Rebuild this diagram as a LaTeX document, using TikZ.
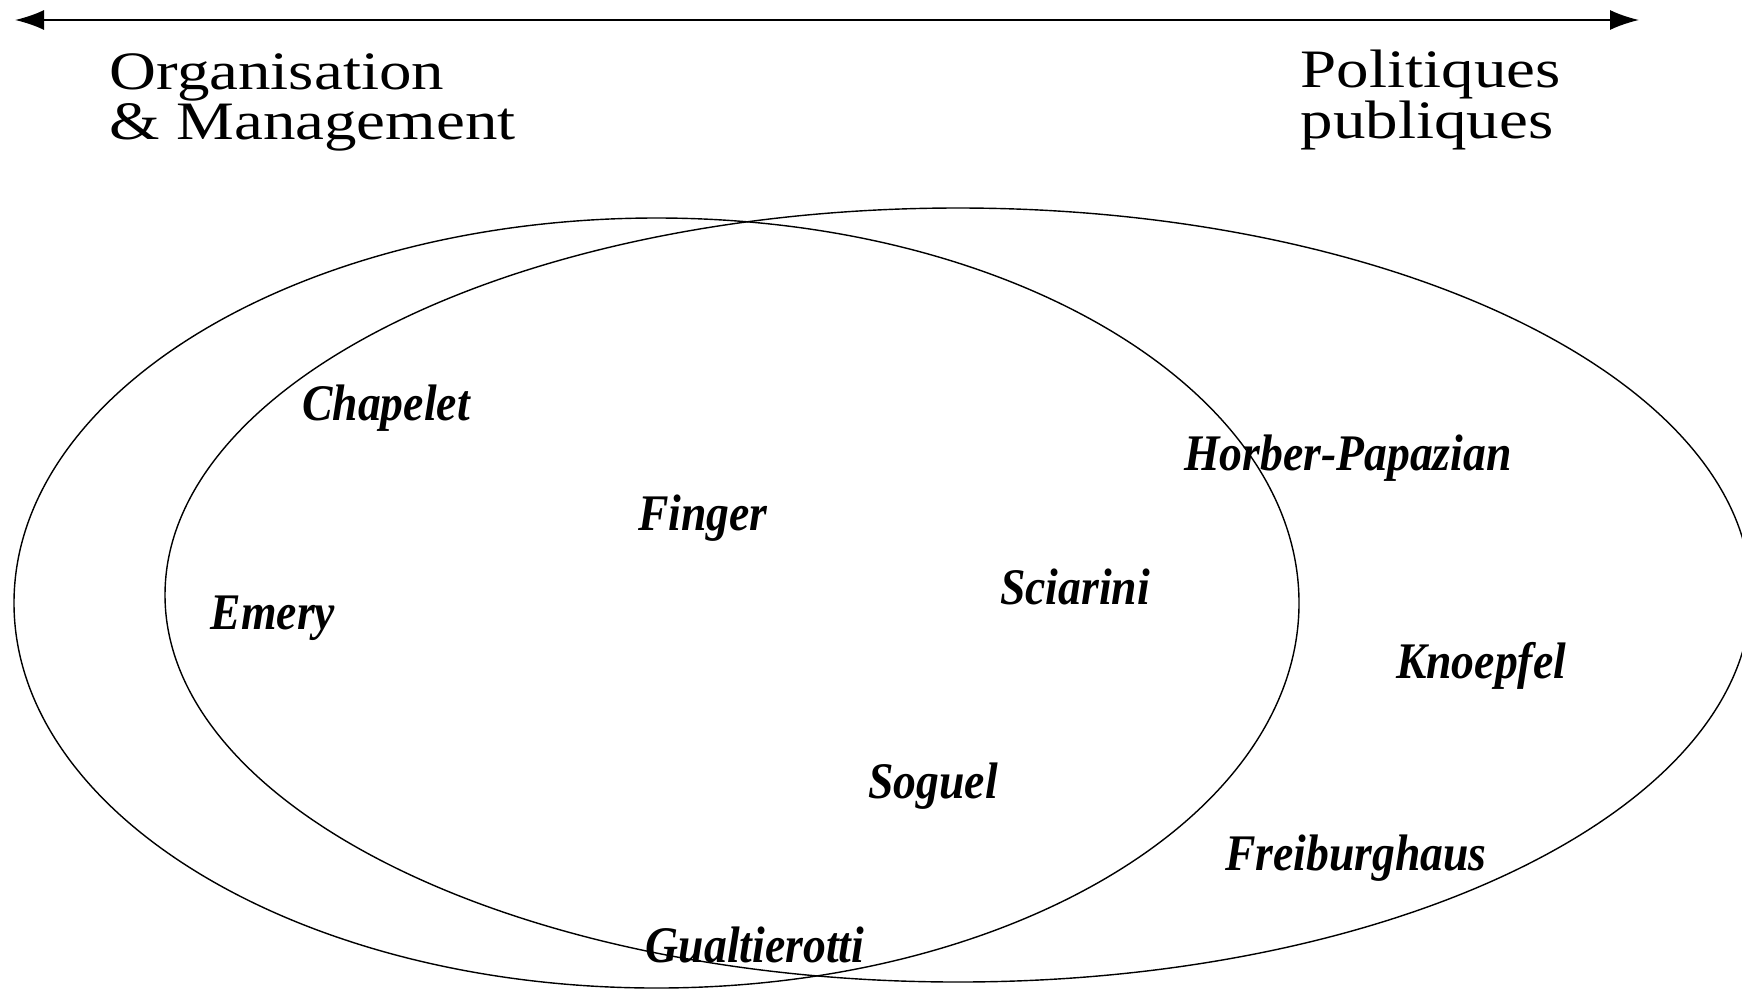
\documentclass[tikz,border=0pt]{standalone}
\usepackage{fontspec}
\setmainfont{Liberation Serif}
\newfontfamily\namefont[FakeStretch=0.89]{Liberation Serif}
\newfontfamily\headfont[FakeStretch=1.2]{Liberation Serif}
\usepackage{tikz}
\usetikzlibrary{positioning,arrows.meta}

\begin{document}
\begin{tikzpicture}[
    author/.style={anchor=base, inner sep=0pt, font=\namefont\bfseries\itshape\fontsize{14.6}{16}\selectfont},
    pole/.style={anchor=north west, inner sep=0pt, align=left, font=\headfont\fontsize{15.4}{12.7}\selectfont}]
    \useasboundingbox (0,0) rectangle (17.42,9.89);

    % axis
    \coordinate (axisL) at (0.15,9.69);
    \coordinate (axisR) at (16.39,9.69);
    \draw[{Latex[length=2.9mm,width=2mm]}-{Latex[length=2.9mm,width=2mm]}, line width=0.5pt] (axisL) -- (axisR);
    \node[pole] (orgmgmt) at (1.09,9.36) {Organisation\\[-0.4pt]\& Management};
    \node[pole] (polpub) at (13.00,9.40) {Politiques\\[-0.4pt]publiques};

    % the two fields
    \draw[line width=0.4pt] (6.565,3.86) ellipse [x radius=6.425, y radius=3.85];
    \draw[line width=0.4pt] (9.58,3.94) ellipse [x radius=7.93, y radius=3.87];

    % authors
    \node[author] (chapelet) at (3.86,5.69) {Chapelet};
    \node[author] (finger) at (7.03,4.59) {Finger};
    \node[author] (emery) at (2.73,3.60) {Emery};
    \node[author] (sciarini) at (10.75,3.85) {Sciarini};
    \node[author] (horber) at (13.48,5.19) {Horber-Papazian};
    \node[author] (knoepfel) at (14.81,3.11) {Knoepfel};
    \node[author] (soguel) at (9.33,1.91) {Soguel};
    \node[author] (freiburghaus) at (13.56,1.19) {Freiburghaus};
    \node[author] (gualtierotti) at (7.55,0.27) {Gualtierotti};
\end{tikzpicture}
\end{document}
